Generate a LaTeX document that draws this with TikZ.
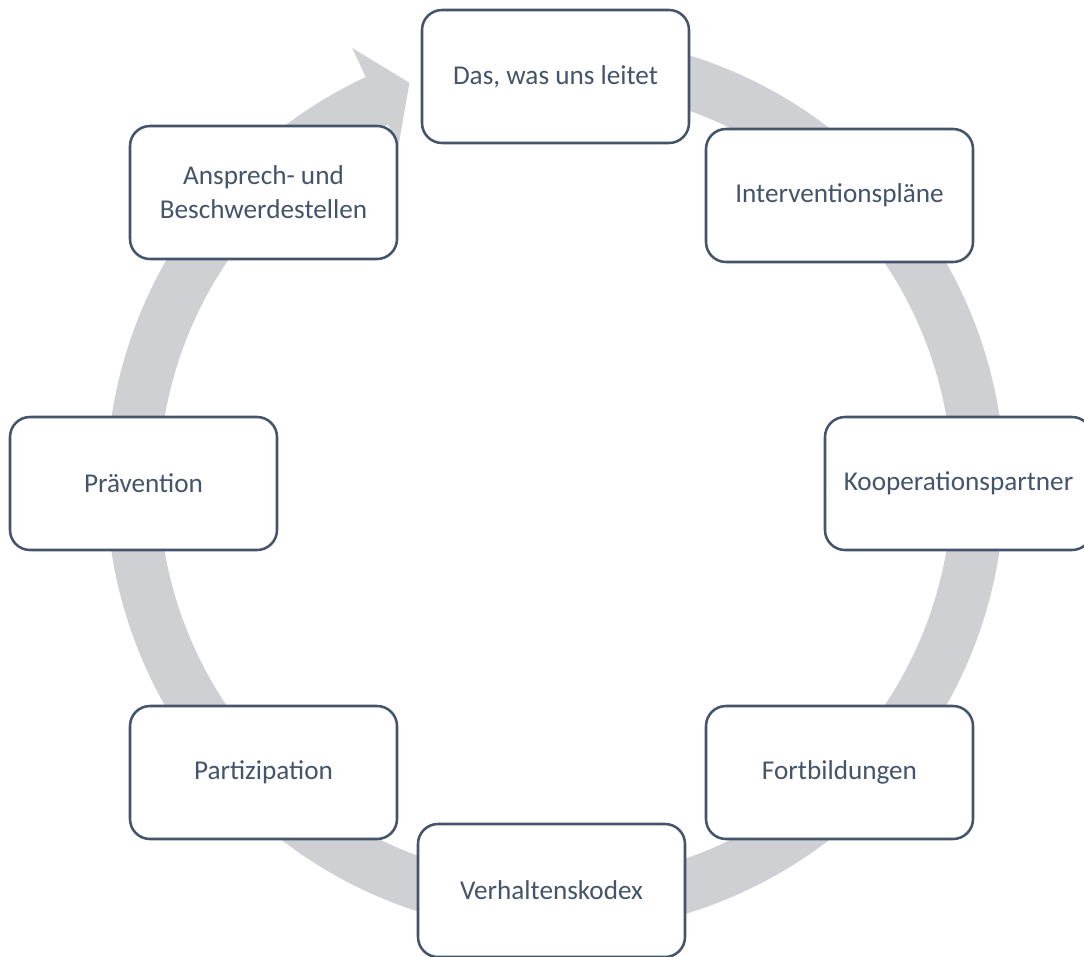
\documentclass[tikz,border=0pt]{standalone}
\usepackage{fontspec}
\setmainfont{Carlito}
\usetikzlibrary{calc}
\definecolor{txt}{HTML}{44546A}
\definecolor{ringc}{HTML}{CFD0D4}
\begin{document}
\begin{tikzpicture}[x=0.75pt,y=0.75pt,
  box/.style={draw=txt, line width=1.9pt, fill=white, rounded corners=15pt,
    minimum width=200.25pt, minimum height=99.75pt, inner sep=0pt, text=txt,
    font=\fontsize{20.4}{25.5}\selectfont, align=center}]
\useasboundingbox (0,0) rectangle (1084,-956);
\clip (0,0) rectangle (1084,-956);
\coordinate (C) at (555.5,-484);
\coordinate (tip) at ($(C)+(110:427)$);
\fill[ringc] ($(C)+(80:449)$) arc[start angle=80, end angle=-245, radius=449]
  -- ($(C)+(115:481)$) -- (tip) -- ($(C)+(115:372)$) -- ($(C)+(115:396.5)$)
  arc[start angle=-245, end angle=80, radius=396.5] -- cycle;
\node[box] (n1) at (555.5,-76.5) {Das, was uns leitet};
\node[box] (n2) at (839.5,-195.5) {Interventionspläne};
\node[box] (n3) at (958.5,-483.5) {Kooperationspartner};
\node[box] (n4) at (839.5,-772.5) {Fortbildungen};
\node[box] (n5) at (551.5,-890.5) {Verhaltenskodex};
\node[box] (n6) at (263.5,-772.5) {Partizipation};
\node[box] (n7) at (143.5,-483.5) {Prävention};
\node[box] (n8) at (263.5,-192.5) {Ansprech- und\\Beschwerdestellen};
\end{tikzpicture}
\end{document}
